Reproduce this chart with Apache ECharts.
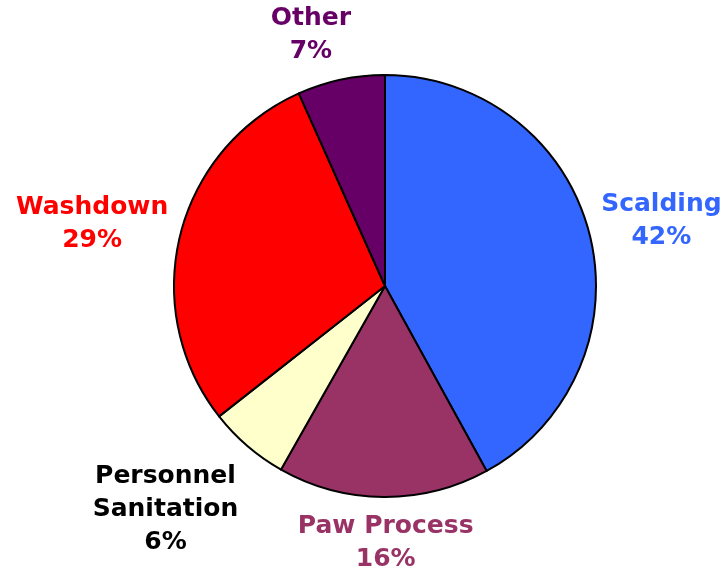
<!DOCTYPE html>
<html><head><meta charset="utf-8">
<script src="https://cdn.jsdelivr.net/npm/echarts@6/dist/echarts.min.js"></script>
<style>html,body{margin:0;padding:0;background:#fff}#c{width:723px;height:575px}</style>
</head><body><div id="c"></div>
<script>
var categories = ['Scalding', 'Paw Process', 'Personnel\nSanitation', 'Washdown', 'Other'];
var values = [42.0, 16.2, 6.2, 28.9, 6.7];
var sliceColors = ['#3366FF', '#993366', '#FFFFCC', '#FF0000', '#660066'];
var labelColors = ['#3366FF', '#993366', '#000000', '#FF0000', '#660066'];
var labelOffsets = [[72, -13], [2, 46], [-82, 63], [-88, -11], [-30, -45]];

var CX = 385, CY = 286, R = 211;
var total = values.reduce(function (a, b) { return a + b; }, 0);
function midAngle(i) {
  var s = 0;
  for (var k = 0; k < i; k++) s += values[k];
  return (s + values[i] / 2) / total * 2 * Math.PI;
}
var chart = echarts.init(document.getElementById('c'), null, { renderer: 'canvas' });
chart.setOption({
  backgroundColor: '#ffffff',
  animation: false,
  series: [{
    type: 'pie',
    center: [CX, CY],
    radius: R,
    startAngle: 90,
    clockwise: true,
    avoidLabelOverlap: false,
    data: categories.map(function (c, i) {
      return {
        name: c, value: values[i],
        itemStyle: { color: sliceColors[i] },
        label: { color: labelColors[i] }
      };
    }),
    itemStyle: { borderColor: '#000', borderWidth: 2 },
    label: {
      show: true,
      position: 'outside',
      formatter: function (p) { return p.name + '\n' + Math.round(p.percent) + '%'; },
      fontFamily: 'DejaVu Sans',
      fontWeight: 'bold',
      fontSize: 25,
      lineHeight: 33,
      align: 'center'
    },
    labelLine: { show: false },
    emphasis: { disabled: true },
    labelLayout: function (params) {
      var i = params.dataIndex;
      var a = midAngle(i);
      return {
        x: CX + R * Math.sin(a) + labelOffsets[i][0],
        y: CY - R * Math.cos(a) + labelOffsets[i][1],
        align: 'center',
        verticalAlign: 'middle'
      };
    }
  }]
});
</script></body></html>
